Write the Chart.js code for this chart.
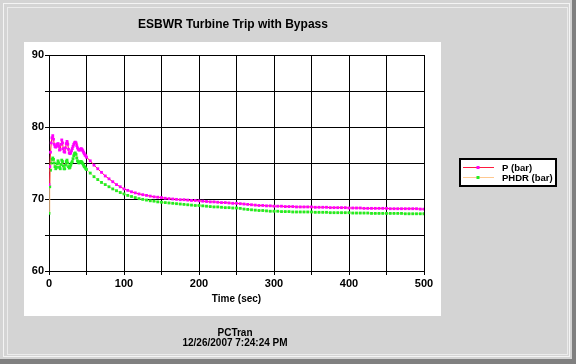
<!DOCTYPE html>
<html>
<head>
<meta charset="utf-8">
<script src="https://cdn.jsdelivr.net/npm/chart.js@4"></script>
<style>
  body { margin: 0; background: #d4d4d4; }
  canvas { display: block; }
</style>
</head>
<body>
<canvas id="trip-chart" width="576" height="364"></canvas>
<script>
// time in seconds
const times = [
  0, 1, 2, 3, 4, 5, 6, 7, 8, 9, 10, 11, 12, 13, 14, 15, 16, 17, 18, 19,
  20, 21, 22, 23, 24, 25, 26, 27, 28, 29, 30, 31, 32, 33, 34, 35, 36, 37, 38, 39,
  40, 41, 42, 43, 44, 45, 46, 47, 48, 49, 50,
  55, 60, 65, 70, 75, 80, 85, 90, 95, 100,
  105, 110, 115, 120, 125, 130, 135, 140, 145, 150,
  155, 160, 165, 170, 175, 180, 185, 190, 195, 200,
  205, 210, 215, 220, 225, 230, 235, 240, 245, 250,
  255, 260, 265, 270, 275, 280, 285, 290, 295, 300,
  305, 310, 315, 320, 325, 330, 335, 340, 345, 350,
  355, 360, 365, 370, 375, 380, 385, 390, 395, 400,
  405, 410, 415, 420, 425, 430, 435, 440, 445, 450,
  455, 460, 465, 470, 475, 480, 485, 490, 495, 500
]

const pressure = [
  72.0, 74.5, 76.5, 77.8, 78.5, 78.8, 78.3, 77.6, 77.3, 77.2, 77.4, 77.6, 77.7, 77.3, 76.8, 76.9, 77.6, 78.2, 77.8, 77.0,
  76.6, 76.5, 77.1, 77.7, 78.0, 77.6, 76.9, 76.4, 76.3, 76.4, 76.7, 77.0, 77.3, 77.6, 77.8, 77.9, 77.8, 77.4, 77.1, 76.9,
  76.8, 76.8, 76.9, 77.0, 76.9, 76.7, 76.5, 76.3, 76.1, 76.0, 75.8,
  75.3, 74.7, 74.2, 73.7, 73.2, 72.8, 72.4, 72.0, 71.7, 71.4,
  71.2, 71.0, 70.85, 70.7, 70.6, 70.5, 70.4, 70.3, 70.25, 70.2,
  70.1, 70.05, 70.0, 69.95, 69.9, 69.9, 69.85, 69.8, 69.8, 69.75,
  69.7, 69.65, 69.6, 69.6, 69.55, 69.5, 69.5, 69.45, 69.4, 69.4,
  69.35, 69.3, 69.25, 69.2, 69.15, 69.1, 69.1, 69.05, 69.05, 69.0,
  69.0, 69.0, 68.95, 68.95, 68.95, 68.9, 68.9, 68.9, 68.9, 68.9,
  68.85, 68.85, 68.85, 68.85, 68.8, 68.8, 68.8, 68.8, 68.8, 68.75,
  68.75, 68.75, 68.75, 68.7, 68.7, 68.7, 68.7, 68.7, 68.7, 68.7,
  68.65, 68.65, 68.65, 68.65, 68.65, 68.65, 68.65, 68.65, 68.6, 68.6
]

const phdr = [
  68.0, 71.7, 74.0, 75.0, 75.5, 75.7, 75.5, 75.0, 74.5, 74.2, 74.4, 74.9, 75.3, 75.0, 74.4, 74.2, 74.8, 75.4, 75.2, 74.6,
  74.2, 74.2, 74.7, 75.2, 75.4, 75.0, 74.5, 74.3, 74.4, 74.7, 75.0, 75.2, 75.6, 76.0, 76.3, 76.4, 76.2, 75.7, 75.3, 75.1,
  75.0, 75.1, 75.2, 75.2, 75.1, 74.9, 74.7, 74.5, 74.4, 74.2, 74.1,
  73.6, 73.1, 72.7, 72.3, 72.0, 71.7, 71.4, 71.15, 70.9, 70.7,
  70.5, 70.35, 70.2, 70.05, 69.95, 69.85, 69.75, 69.7, 69.6, 69.55,
  69.5, 69.45, 69.4, 69.35, 69.3, 69.25, 69.2, 69.15, 69.1, 69.1,
  69.05, 69.0, 68.95, 68.9, 68.9, 68.85, 68.8, 68.8, 68.75, 68.75,
  68.7, 68.6, 68.55, 68.5, 68.45, 68.4, 68.4, 68.35, 68.3, 68.3,
  68.3, 68.25, 68.25, 68.25, 68.2, 68.2, 68.2, 68.2, 68.2, 68.2,
  68.15, 68.15, 68.15, 68.15, 68.1, 68.1, 68.1, 68.1, 68.1, 68.1,
  68.05, 68.05, 68.05, 68.05, 68.05, 68.0, 68.0, 68.0, 68.0, 68.0,
  68.0, 68.0, 68.0, 68.0, 67.95, 67.95, 67.95, 67.95, 67.95, 67.95
]

const chartTitle = 'ESBWR Turbine Trip with Bypass'
const footerLines = ['PCTran', '12/26/2007 7:24:24 PM']
const xTitle = 'Time (sec)'

const fontFamily = "'Liberation Sans', Arial, sans-serif"
Chart.defaults.font.family = fontFamily
Chart.defaults.color = '#000'

function toPoints(values) {
    return times.map((t, i) => ({ x: t, y: values[i] }))
}

// window frame, white plot panel, title, footer and legend box
const framePlugin = {
    id: 'frame',
    beforeDraw(chart) {
        const ctx = chart.ctx
        ctx.save()
        ctx.fillStyle = '#d4d4d4'
        ctx.fillRect(0, 0, 576, 364)
        ctx.fillStyle = '#808080'
        ctx.fillRect(572, 0, 4, 364)
        ctx.fillRect(0, 359, 576, 5)
        ctx.strokeStyle = '#f4f4f4'
        ctx.lineWidth = 1
        ctx.strokeRect(3.5, 3.5, 566, 353)
        ctx.strokeStyle = '#ececec'
        ctx.strokeRect(7.5, 7.5, 560, 347)
        ctx.fillStyle = '#ffffff'
        ctx.fillRect(24, 42, 417, 274)
        ctx.restore()
    },
    afterDraw(chart) {
        const ctx = chart.ctx
        ctx.save()
        ctx.fillStyle = '#000'
        ctx.textAlign = 'center'
        ctx.textBaseline = 'middle'
        ctx.font = 'bold 12px ' + fontFamily
        ctx.fillText(chartTitle, 233, 25)
        ctx.font = 'bold 10px ' + fontFamily
        ctx.fillText(footerLines[0], 235, 333)
        ctx.fillText(footerLines[1], 235, 343)

        // legend
        ctx.fillStyle = '#fff'
        ctx.fillRect(459, 158, 98, 29)
        ctx.strokeStyle = '#000'
        ctx.lineWidth = 2
        ctx.strokeRect(460, 159, 96, 27)
        ctx.lineWidth = 1
        ctx.textAlign = 'left'
        ctx.font = 'bold 9.5px ' + fontFamily
        chart.data.datasets.forEach((ds, i) => {
            const y = 167.5 + i * 10
            ctx.strokeStyle = ds.borderColor
            ctx.beginPath()
            ctx.moveTo(463, y)
            ctx.lineTo(494, y)
            ctx.stroke()
            ctx.fillStyle = ds.pointBackgroundColor
            ctx.fillRect(476.5, y - 1.5, 3, 3)
            ctx.fillStyle = '#000'
            ctx.fillText(ds.label, 502, y + 0.5)
        })
        ctx.restore()
    }
}

new Chart(document.getElementById('trip-chart'), {
    type: 'line',
    data: {
        datasets: [{
            label: 'P (bar)',
            data: toPoints(pressure),
            borderColor: '#ff1a3c',
            borderWidth: 1,
            pointRadius: 2,
            pointBorderWidth: 0,
            pointBackgroundColor: '#ff00ff',
            pointStyle: 'rect',
            tension: 0
        }, {
            label: 'PHDR (bar)',
            data: toPoints(phdr),
            borderColor: '#ffc890',
            borderWidth: 1,
            pointRadius: 2,
            pointBorderWidth: 0,
            pointBackgroundColor: '#22ee22',
            pointStyle: 'rect',
            tension: 0
        }]
    },
    options: {
        responsive: false,
        animation: false,
        layout: {
            padding: { left: 0, top: 55, right: 152, bottom: 59 }
        },
        plugins: {
            legend: { display: false },
            title: { display: false },
            tooltip: { enabled: false }
        },
        scales: {
            x: {
                type: 'linear',
                min: 0,
                max: 500,
                afterFit(scale) { scale.height = 34 },
                ticks: {
                    stepSize: 50,
                    autoSkip: false,
                    maxRotation: 0,
                    padding: 2,
                    font: { size: 11, weight: 'bold' },
                    callback: v => (v % 100 === 0 ? v : '')
                },
                grid: { color: '#000', tickLength: 4, tickColor: '#000' },
                border: { color: '#000' },
                title: {
                    display: true,
                    text: xTitle,
                    font: { size: 10, weight: 'bold' },
                    padding: 0
                }
            },
            y: {
                min: 60,
                max: 90,
                afterFit(scale) { scale.width = 49 },
                ticks: {
                    stepSize: 5,
                    padding: 1,
                    font: { size: 11, weight: 'bold' },
                    callback: v => (v % 10 === 0 ? v : '')
                },
                grid: { color: '#000', tickLength: 4, tickColor: '#000' },
                border: { color: '#000' }
            }
        }
    },
    plugins: [framePlugin]
});
</script>
</body>
</html>
